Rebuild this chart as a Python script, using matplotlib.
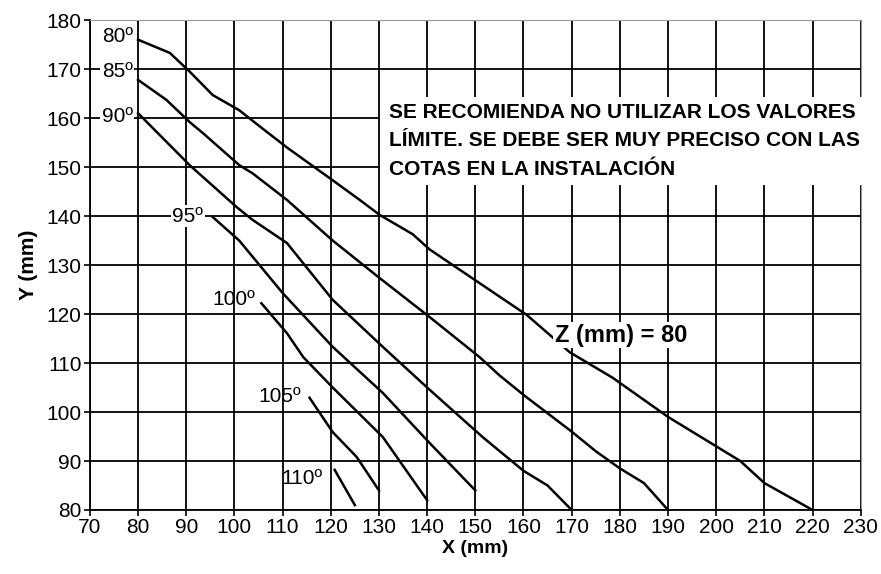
import matplotlib
matplotlib.use("Agg")
from matplotlib import pyplot as plt
from matplotlib.patches import Rectangle

# curves, one per angle
x80 = [80, 86.6, 90.7, 95.5, 101, 105, 110.9, 120.4, 126, 130.2, 137, 140.5, 150.9, 160.7, 169.6, 178.5, 190, 200, 205, 210, 220]
y80 = [176, 173.3, 169.5, 164.7, 161.6, 158.5, 154, 147.3, 143.3, 140.2, 136.3, 133.2, 126.3, 119.8, 112.2, 107, 99, 93, 90, 85.5, 80]
x85 = [80, 85.9, 90.7, 93.5, 101, 103.8, 110.9, 120.4, 130.2, 140.5, 150.9, 155, 160, 170, 175, 180, 185, 190]
y85 = [167.8, 163.7, 159.2, 156.9, 150.4, 148.7, 143.3, 135, 127.3, 119.4, 111.2, 107.5, 103.5, 96, 92, 88.5, 85.5, 80]
x90 = [80, 90.7, 100.5, 103.8, 110.9, 120.4, 130.8, 140, 151.5, 160, 165, 170]
y90 = [161, 150.4, 141.8, 139.2, 134.5, 122.9, 113.3, 105, 94.9, 88, 85, 80]
x95 = [95.5, 101, 110, 120.4, 130.8, 140.5, 150]
y95 = [139.8, 135, 124.3, 113.3, 103.9, 93.7, 84]
x100 = [105.6, 110.9, 114.3, 120.4, 130.8, 140]
y100 = [122.2, 116.1, 111.2, 105, 94.9, 82]
x105 = [115.6, 120.4, 125.4, 130]
y105 = [102.9, 95.9, 90.8, 84]
x110 = [120.8, 125]
y110 = [88.2, 81]

curves = [(x80, y80), (x85, y85), (x90, y90), (x95, y95), (x100, y100), (x105, y105), (x110, y110)]

# angle labels: text, x, y, white background or not
angle_labels = [('80º', 78.9, 176.7, True), ('85º', 78.9, 169.6, True), ('90º', 78.9, 160.3, True),
                ('95º', 90.3, 140, True), ('100º', 99.9, 122.9, False),
                ('105º', 109.4, 103.2, False), ('110º', 114.0, 86.5, False)]

note = "SE RECOMIENDA NO UTILIZAR LOS VALORES\nLÍMITE. SE DEBE SER MUY PRECISO CON LAS\nCOTAS EN LA INSTALACIÓN"

plt.rcParams['font.family'] = ['Liberation Sans', 'DejaVu Sans']

fig = plt.figure(figsize=(8.81, 5.74), dpi=100)
ax = fig.add_axes([0.102, 0.1115, 0.875, 0.8535])

for xs, ys in curves:
    ax.plot(xs, ys, color='black', lw=1.8, zorder=3)

ax.set_xlim(70, 230)
ax.set_ylim(80, 180)
ax.set_xticks(range(70, 231, 10))
ax.set_yticks(range(80, 181, 10))
ax.grid(True, color='black', lw=1.3)
ax.set_axisbelow(True)
ax.tick_params(direction='out', length=4, width=1.2, labelsize=15, pad=2)
for side in ['top', 'right']:
    ax.spines[side].set_color('#999999')
for side in ['left', 'bottom']:
    ax.spines[side].set_linewidth(1.3)

ax.set_xlabel('X (mm)', fontsize=14, fontweight='bold', labelpad=2)
ax.set_ylabel('Y (mm)', fontsize=15, fontweight='bold', labelpad=6)

for txt, lx, ly, bg in angle_labels:
    kw = dict(bbox=dict(facecolor='white', edgecolor='none', pad=1)) if bg else {}
    ax.text(lx, ly, txt, ha='right' if lx < 80 else 'center', va='center',
            fontsize=15, zorder=4, **kw)

ax.text(166.5, 115.7, 'Z (mm) = 80', fontsize=17, fontweight='bold', va='center', ha='left',
        zorder=4, bbox=dict(facecolor='white', edgecolor='none', pad=1))

ax.add_patch(Rectangle((130.3, 146.4), 101, 18, facecolor='white', edgecolor='none',
                       zorder=5, clip_on=False))
ax.text(132.0, 155.4, note, fontsize=15, fontweight='bold', va='center', ha='left',
        linespacing=1.63, zorder=6)

fig.savefig('out.png', dpi=100)
